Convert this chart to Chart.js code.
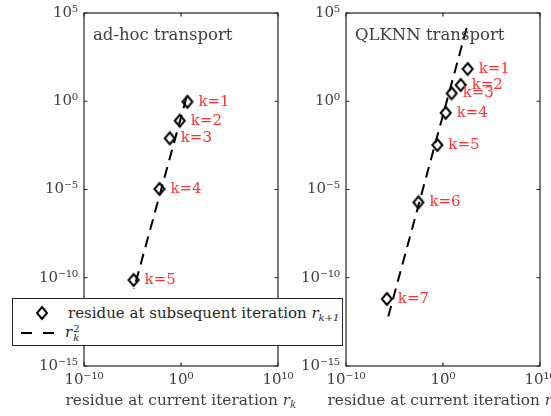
<!DOCTYPE html>
<html><head><meta charset="utf-8">
<script src="https://cdn.jsdelivr.net/npm/chart.js@4.4.1/dist/chart.umd.min.js"></script>
<style>
html,body{margin:0;padding:0;background:#fff;overflow:hidden;width:551px;height:416px;}
#wrap{position:relative;width:551px;height:416px;overflow:hidden;}
#c1{position:absolute;left:0;top:0;}
#c2{position:absolute;left:290px;top:0;}
#legend{position:absolute;left:12px;top:298px;width:329px;height:46px;border:1px solid #262626;background:#fff;font-family:'DejaVu Serif';font-size:15px;color:#262626;z-index:5;}
#legend .it{position:absolute;white-space:nowrap;line-height:16px;}
#legend i{font-style:italic;}
sub{font-size:10px;font-style:italic;vertical-align:-3px;}
.stack{display:inline-block;vertical-align:middle;line-height:9px;font-size:10px;margin-left:1px;}
.stack span{display:block;}
</style></head>
<body><div id="wrap">
<canvas id="c1" width="300" height="416"></canvas>
<canvas id="c2" width="261" height="416"></canvas>
<div id="legend">
  <svg style="position:absolute;left:22px;top:6px" width="14" height="16"><path d="M7 2 L12 8 L7 14 L2 8 Z" fill="none" stroke="#000" stroke-width="2"/></svg>
  <div class="it" style="left:55px;top:6px">residue at subsequent iteration <i>r</i><sub>k+1</sub></div>
  <svg style="position:absolute;left:7px;top:26px" width="40" height="16"><line x1="1" y1="8" x2="40" y2="8" stroke="#000" stroke-width="2" stroke-dasharray="11,11"/></svg>
  <div class="it" style="left:52px;top:25px"><i>r</i><span class="stack"><span>2</span><span style="font-style:italic">k</span></span></div>
</div>
</div>
<script>
// ---- data ----
const kLabelsLeft = ['k=1','k=2','k=3','k=4','k=5'];
const rkLeft   = [4.6, 0.74, 0.069, 0.0060, 1.3e-5];      // residue at current iteration
const rk1Left  = [0.93, 0.079, 0.0079, 1.07e-5, 7.4e-11]; // residue at subsequent iteration
const lineXLeft = [3.6, 1.38e-5];
const lineYLeft = [1.6, 2.3e-11];

const kLabelsRight = ['k=1','k=2','k=3','k=4','k=5','k=6','k=7'];
const rkRight  = [347, 66, 7.8, 1.9, 0.26, 0.0029, 1.62e-6];
const rk1Right = [67.6, 8.3, 2.8, 0.22, 0.0033, 1.86e-6, 6.3e-12];
const lineXRight = [275, 1.62e-6];
const lineYRight = [14100, 3.2e-13];

const xTickVals = [1e-10, 1, 1e10];
const xTickLabels = ['10⁻¹⁰', '10⁰', '10¹⁰'];
const yTickVals = [1e-15, 1e-10, 1e-5, 1, 1e5];
const yTickLabels = ['10⁻¹⁵', '10⁻¹⁰', '10⁻⁵', '10⁰', '10⁵'];
const xTitleMain = 'residue at current iteration ';
const xTitleVar = 'r';
const xTitleSub = 'k';

const FONT = "'DejaVu Serif', serif";
const GRAY = '#404040';

function diamond(){
  const c=document.createElement('canvas');c.width=14;c.height=16;
  const g=c.getContext('2d');g.lineWidth=2;g.strokeStyle='#000';g.lineJoin='miter';
  g.beginPath();g.moveTo(7,2);g.lineTo(12,8);g.lineTo(7,14);g.lineTo(2,8);g.closePath();g.stroke();
  return c;
}
const dia = diamond();

const framePlugin = {
  id:'frame',
  afterDraw(chart, args, opts){
    const {ctx, chartArea:a, scales} = chart;
    ctx.save();
    ctx.strokeStyle='#262626'; ctx.lineWidth=1.2;
    ctx.strokeRect(a.left, a.top, a.right-a.left, a.bottom-a.top);
    const L=3.5;
    ctx.beginPath();
    xTickVals.forEach(v=>{const x=scales.x.getPixelForValue(v);
      ctx.moveTo(x,a.bottom);ctx.lineTo(x,a.bottom-L);ctx.moveTo(x,a.top);ctx.lineTo(x,a.top+L);});
    yTickVals.forEach(v=>{const y=scales.y.getPixelForValue(v);
      ctx.moveTo(a.left,y);ctx.lineTo(a.left+L,y);ctx.moveTo(a.right,y);ctx.lineTo(a.right-L,y);});
    ctx.stroke();
    // panel title
    ctx.fillStyle=GRAY; ctx.font="16.5px "+FONT; ctx.textBaseline='alphabetic'; ctx.textAlign='left';
    ctx.fillText(opts.title, a.left+9, a.top+27);
    // x-axis title with italic r and subscript k
    const f1="15.3px "+FONT, f2="italic 15.3px "+FONT, f3="italic 10.5px "+FONT;
    ctx.font=f1; const w1=ctx.measureText(xTitleMain).width;
    ctx.font=f2; const w2=ctx.measureText(xTitleVar).width;
    ctx.font=f3; const w3=ctx.measureText(xTitleSub).width;
    let x0=(a.left+a.right)/2-(w1+w2+w3)/2; const yb=405;
    ctx.font=f1; ctx.fillText(xTitleMain,x0,yb);
    ctx.font=f2; ctx.fillText(xTitleVar,x0+w1,yb);
    ctx.font=f3; ctx.fillText(xTitleSub,x0+w1+w2,yb+3);
    // k labels
    const meta = chart.getDatasetMeta(1);
    ctx.fillStyle='#ff3333'; ctx.font="15px "+FONT; ctx.textBaseline='middle';
    meta.data.forEach((pt,i)=>{ ctx.fillText(opts.labels[i], pt.x+11, pt.y); });
    ctx.restore();
  }
};

function makeChart(id, rk, rk1, lx, ly, labels, title, yWidth, padRight){
  return new Chart(document.getElementById(id), {
    type:'scatter',
    data:{datasets:[
      {data: lx.map((x,i)=>({x, y: ly[i]})), showLine:true, borderColor:'#000', borderWidth:2,
       borderDash:[11,7], pointRadius:0, fill:false},
      {data: rk.map((x,i)=>({x, y: rk1[i]})), pointStyle: dia, pointRadius:6, showLine:false}
    ]},
    options:{
      responsive:false, animation:false, devicePixelRatio:1,
      layout:{padding:{left:0, right:padRight, top:13, bottom:0}},
      plugins:{legend:{display:false}, tooltip:{enabled:false}, frame:{title, labels}},
      scales:{
        x:{type:'logarithmic', min:1e-10, max:1e10,
           grid:{display:false, drawTicks:false}, border:{display:false},
           afterBuildTicks(s){ s.ticks = xTickVals.map(v=>({value:v})); },
           afterFit(s){ s.height=50; s.paddingLeft=0; s.paddingRight=0; },
           ticks:{padding:5, color:GRAY, font:{family:FONT, size:15}, maxRotation:0, autoSkip:false,
                  callback:(v)=>{const i=xTickVals.indexOf(v); return i>=0?xTickLabels[i]:'';}},
           title:{display:false}},
        y:{type:'logarithmic', min:1e-15, max:1e5,
           grid:{display:false, drawTicks:false}, border:{display:false},
           afterBuildTicks(s){ s.ticks = yTickVals.map(v=>({value:v})); },
           afterFit(s){ s.width=yWidth; s.paddingTop=0; s.paddingBottom=0; },
           ticks:{padding:6, color:GRAY, font:{family:FONT, size:15}, autoSkip:false,
                  callback:(v)=>{const i=yTickVals.indexOf(v); return i>=0?yTickLabels[i]:'';}}}
      }
    },
    plugins:[framePlugin]
  });
}
makeChart('c1', rkLeft, rk1Left, lineXLeft, lineYLeft, kLabelsLeft, 'ad-hoc transport', 84, 22);
makeChart('c2', rkRight, rk1Right, lineXRight, lineYRight, kLabelsRight, 'QLKNN transport', 56, 11);
</script>
</body></html>
